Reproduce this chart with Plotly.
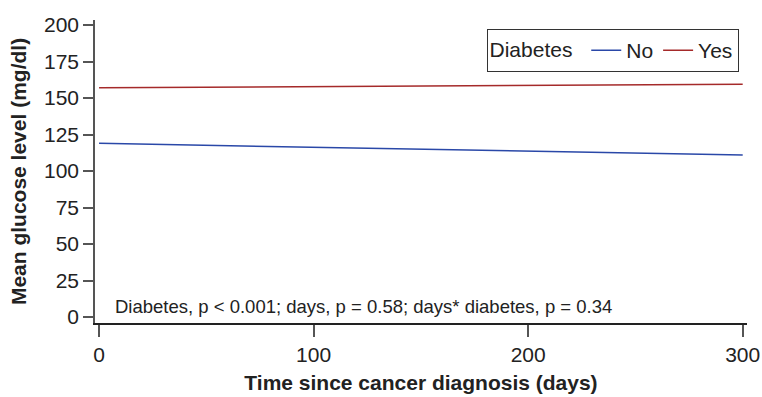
import plotly.graph_objects as go

# Predicted mean glucose over time, by diabetes status
days = [0, 300]
glucose_no = [119, 111]
glucose_yes = [157, 159.5]
x_ticks = [0, 100, 200, 300]
y_ticks = [0, 25, 50, 75, 100, 125, 150, 175, 200]

FONT = "Liberation Sans, Arial, Helvetica, sans-serif"
AXIS_COLOR = "#555555"
TEXT_COLOR = "#222222"

fig = go.Figure()
fig.add_trace(go.Scatter(x=days, y=glucose_no, mode="lines", name="No",
                         line=dict(color="#2a48a8", width=1.5)))
fig.add_trace(go.Scatter(x=days, y=glucose_yes, mode="lines", name="Yes",
                         line=dict(color="#a52a2a", width=1.5)))

fig.add_annotation(
    text="Diabetes, p < 0.001; days, p = 0.58; days* diabetes, p = 0.34",
    x=0.027, y=0.055, xref="paper", yref="paper", xanchor="left", yanchor="middle",
    showarrow=False, font=dict(family=FONT, size=18.5, color=TEXT_COLOR))

fig.update_layout(
    width=762, height=397,
    margin=dict(l=95, r=15, t=20, b=74, autoexpand=False),
    plot_bgcolor="white", paper_bgcolor="white",
    font=dict(family=FONT, color=TEXT_COLOR),
    showlegend=True,
    legend=dict(
        orientation="h", x=0.987, y=0.97, xanchor="right", yanchor="top",
        title=dict(text="Diabetes ", side="left", font=dict(size=21)),
        font=dict(size=21), bordercolor="#333333", borderwidth=1,
        bgcolor="white", itemwidth=30, tracegroupgap=0,
    ),
    xaxis=dict(
        range=[-1.9, 302], tickvals=x_ticks, ticks="outside", ticklen=12,
        tickcolor=AXIS_COLOR, tickwidth=1.5, showline=True, linecolor="#222222",
        linewidth=1.5, showgrid=False, zeroline=False, automargin=False,
        tickfont=dict(size=21),
        title=dict(text="<b>Time since cancer diagnosis (days)</b>",
                   font=dict(size=21), standoff=10),
    ),
    yaxis=dict(
        range=[-4.1, 203.5], tickvals=y_ticks, ticks="outside", ticklen=10,
        tickcolor=AXIS_COLOR, tickwidth=1.5, showline=True, linecolor=AXIS_COLOR,
        linewidth=1.5, showgrid=False, zeroline=False, automargin=False,
        tickfont=dict(size=21),
        title=dict(text="<b>Mean glucose level (mg/dl)</b>",
                   font=dict(size=21), standoff=12),
    ),
)

fig.write_html("out.html")
